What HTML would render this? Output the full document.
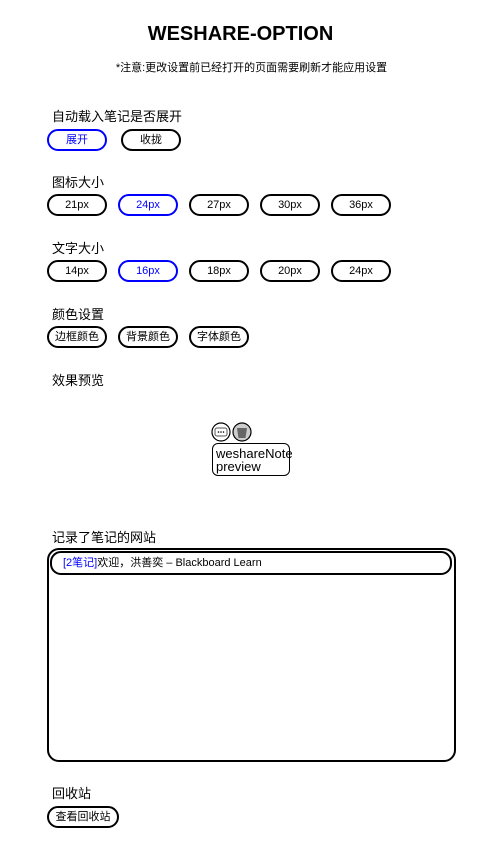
<!DOCTYPE html>
<html><head><meta charset="utf-8"><style>
body{margin:0;width:481px;height:847px;background:#fff;font-family:"Liberation Sans","Noto Sans CJK SC",sans-serif;color:#000;position:relative;overflow:hidden}
.a{position:absolute}
.t{font-size:13px}
.b{position:absolute;box-sizing:border-box;height:22px;width:60px;border:2px solid #000;border-radius:11px;font-size:11px;text-align:center;line-height:18px}
.sel{border-color:#00f;color:#00f}
</style></head><body>
<div class="a" style="left:0;width:481px;top:23px;text-align:center;font-weight:bold;font-size:20px">WESHARE-OPTION</div>
<div class="a" style="left:0;width:503px;top:59px;text-align:center;font-size:11px">*注意:更改设置前已经打开的页面需要刷新才能应用设置</div>
<div class="a t" style="left:52px;top:106px">自动载入笔记是否展开</div>
<div class="b sel" style="left:47px;top:129px">展开</div>
<div class="b" style="left:121px;top:129px">收拢</div>
<div class="a t" style="left:52px;top:172px">图标大小</div>
<div class="b" style="left:47px;top:194px">21px</div>
<div class="b sel" style="left:118px;top:194px">24px</div>
<div class="b" style="left:189px;top:194px">27px</div>
<div class="b" style="left:260px;top:194px">30px</div>
<div class="b" style="left:331px;top:194px">36px</div>
<div class="a t" style="left:52px;top:238px">文字大小</div>
<div class="b" style="left:47px;top:260px">14px</div>
<div class="b sel" style="left:118px;top:260px">16px</div>
<div class="b" style="left:189px;top:260px">18px</div>
<div class="b" style="left:260px;top:260px">20px</div>
<div class="b" style="left:331px;top:260px">24px</div>
<div class="a t" style="left:52px;top:304px">颜色设置</div>
<div class="b" style="left:47px;top:326px">边框颜色</div>
<div class="b" style="left:118px;top:326px">背景颜色</div>
<div class="b" style="left:189px;top:326px">字体颜色</div>
<div class="a t" style="left:52px;top:370px">效果预览</div>
<svg class="a" style="left:211px;top:422px" width="42" height="22">
<circle cx="10" cy="10" r="9" fill="#fff" stroke="#000" stroke-width="1.2"/>
<rect x="4" y="6" width="12" height="8" rx="2" fill="none" stroke="#555"/>
<circle cx="7.5" cy="10" r=".8"/><circle cx="10" cy="10" r=".8"/><circle cx="12.5" cy="10" r=".8"/>
<circle cx="31" cy="10" r="9" fill="#ccc" stroke="#000" stroke-width="1.2"/>
<path d="M26 6h10l-1.5 10h-7z" fill="#666"/>
</svg>
<div class="a" style="left:212px;top:443px;width:78px;height:33px;box-sizing:border-box;border:1px solid #000;border-radius:6px;font-size:13px;line-height:13px;padding:3px 3px">weshareNote preview</div>
<div class="a t" style="left:52px;top:527px">记录了笔记的网站</div>
<div class="a" style="left:47px;top:548px;width:409px;height:214px;box-sizing:border-box;border:2px solid #000;border-radius:12px"></div>
<div class="a" style="left:50px;top:551px;width:402px;height:24px;box-sizing:border-box;border:2px solid #000;border-radius:11px;font-size:11px;line-height:20px;padding-left:11px"><span style="color:#00f">[2笔记]</span>欢迎，洪善奕 – Blackboard Learn</div>
<div class="a t" style="left:52px;top:783px">回收站</div>
<div class="b" style="left:47px;top:806px;width:72px">查看回收站</div>
</body></html>
